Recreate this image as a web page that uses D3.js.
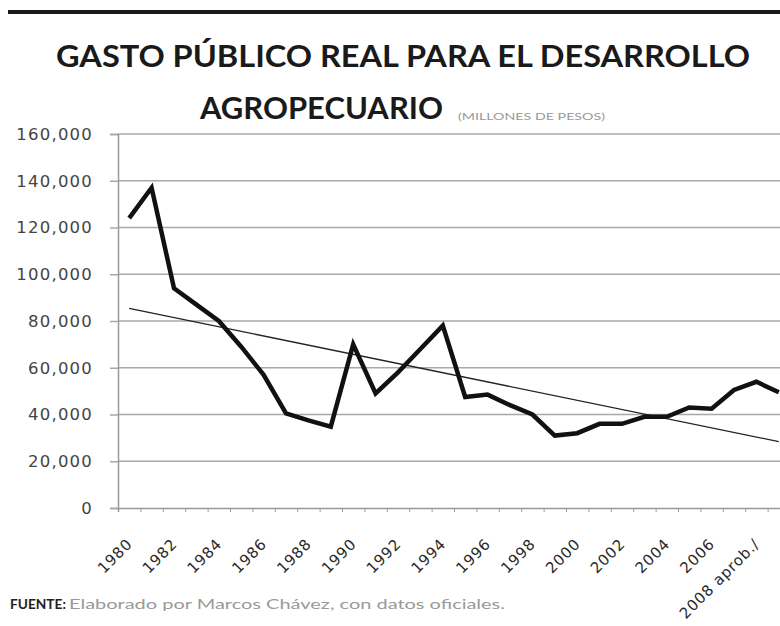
<!DOCTYPE html>
<html>
<head>
<meta charset="utf-8">
<script src="https://cdn.jsdelivr.net/npm/d3@7"></script>
<style>
  body { margin: 0; background: #fff; }
  svg { display: block; }
</style>
</head>
<body>
<script>
// Years shown on the chart (last one is cut off at the right edge)
var years = ['1980','1981','1982','1983','1984','1985','1986','1987','1988','1989',
             '1990','1991','1992','1993','1994','1995','1996','1997','1998','1999',
             '2000','2001','2002','2003','2004','2005','2006','2007','2008 aprob./','2009'];

// Gasto publico real, millones de pesos
var gasto = [124000, 137000, 94000, 87000, 80000, 69000, 57000, 40500, 37500, 34800,
             70000, 49000, 58000, 68000, 78000, 47500, 48500, 44000, 40000, 31000,
             32000, 36000, 36000, 39000, 39000, 43000, 42500, 50500, 54000, 49500];

// Linear trend line, value at first and last year
var trendYears = ['1980', '2009'];
var trendValues = [85400, 28400];

var yTicks = [0, 20000, 40000, 60000, 80000, 100000, 120000, 140000, 160000];

var width = 780, height = 626;
var plotLeft = 118, plotBottom = 508, plotTop = 134;
var step = 22.4;

var svg = d3.select(document.body).append('svg')
  .attr('width', width).attr('height', height);

svg.append('rect').attr('width', width).attr('height', height).attr('fill', '#fff');

// thick rule on top
svg.append('line')
  .attr('x1', 8).attr('x2', width).attr('y1', 12).attr('y2', 12)
  .attr('stroke', '#1a1a1a').attr('stroke-width', 4);

// Title (two lines)
svg.append('text')
  .attr('x', 56).attr('y', 67)
  .attr('textLength', 694).attr('lengthAdjust', 'spacingAndGlyphs')
  .style('font-family', 'Lato, sans-serif').style('font-weight', 'bold')
  .style('font-size', '31px').attr('fill', '#1a1a1a')
  .text('GASTO PÚBLICO REAL PARA EL DESARROLLO');

svg.append('text')
  .attr('x', 200).attr('y', 119)
  .attr('textLength', 243).attr('lengthAdjust', 'spacingAndGlyphs')
  .style('font-family', 'Lato, sans-serif').style('font-weight', 'bold')
  .style('font-size', '31px').attr('fill', '#1a1a1a')
  .text('AGROPECUARIO');

svg.append('text')
  .attr('x', 458).attr('y', 120)
  .attr('textLength', 147).attr('lengthAdjust', 'spacingAndGlyphs')
  .style('font-family', 'Lato, sans-serif')
  .style('font-size', '10px').attr('fill', '#999')
  .text('(MILLONES DE PESOS)');

// Scales: x by category index, band edges on integers
var x = d3.scaleLinear().domain([0, years.length]).range([plotLeft, plotLeft + years.length * step]);
var xc = function(yr) { return x(years.indexOf(yr) + 0.5); };
var y = d3.scaleLinear().domain([0, 160000]).range([plotBottom, plotTop]);

// gridlines
svg.append('g')
  .selectAll('line')
  .data(yTicks.filter(function(d) { return d > 0; }))
  .enter().append('line')
  .attr('x1', plotLeft).attr('x2', width)
  .attr('y1', function(d) { return y(d); })
  .attr('y2', function(d) { return y(d); })
  .attr('stroke', '#a8a8a8').attr('stroke-width', 1.5);

// y axis
var yAxis = svg.append('g')
  .attr('transform', 'translate(' + plotLeft + ',0)')
  .call(d3.axisLeft(y).tickValues(yTicks).tickSize(8).tickPadding(17)
        .tickFormat(d3.format(',')));
yAxis.select('.domain').attr('stroke', '#999').attr('stroke-width', 1.5);
yAxis.selectAll('.tick line').attr('stroke', '#a8a8a8').attr('stroke-width', 1.5);
yAxis.selectAll('.tick text')
  .style('font-family', '"DejaVu Sans", sans-serif').style('font-size', '16.5px')
  .style('letter-spacing', '1.2px').attr('fill', '#444');

// x axis: ticks at band edges, no labels
var xAxis = svg.append('g')
  .attr('transform', 'translate(0,' + plotBottom + ')')
  .call(d3.axisBottom(x).tickValues(d3.range(0, years.length + 1)).tickSize(4)
        .tickFormat(''));
xAxis.select('.domain').attr('stroke', '#999').attr('stroke-width', 1.5);
xAxis.selectAll('.tick line').attr('stroke', '#999').attr('stroke-width', 1);

// x labels every other year
svg.append('g')
  .selectAll('text')
  .data(years.filter(function(d, i) { return i % 2 === 0; }))
  .enter().append('text')
  .attr('transform', function(d) { return 'translate(' + (xc(d) + 4) + ',545) rotate(-45)'; })
  .attr('text-anchor', 'end')
  .style('font-family', '"DejaVu Sans", sans-serif').style('font-size', '15px')
  .style('letter-spacing', '0.8px').attr('fill', '#2a2a2a')
  .text(function(d) { return d; });

// trend line
svg.append('line')
  .attr('x1', xc(trendYears[0])).attr('y1', y(trendValues[0]))
  .attr('x2', xc(trendYears[1])).attr('y2', y(trendValues[1]))
  .attr('stroke', '#222').attr('stroke-width', 1.3);

// data line
var line = d3.line()
  .x(function(d, i) { return x(i + 0.5); })
  .y(function(d) { return y(d); });

svg.append('path')
  .datum(gasto)
  .attr('d', line)
  .attr('fill', 'none')
  .attr('stroke', '#111')
  .attr('stroke-width', 4.5)
  .attr('stroke-linejoin', 'miter');

// source
svg.append('text')
  .attr('x', 10).attr('y', 609)
  .attr('textLength', 56).attr('lengthAdjust', 'spacingAndGlyphs')
  .style('font-family', 'Lato, sans-serif').style('font-weight', 'bold')
  .style('font-size', '14px').attr('fill', '#222')
  .text('FUENTE:');

svg.append('text')
  .attr('x', 69).attr('y', 609)
  .attr('textLength', 436).attr('lengthAdjust', 'spacingAndGlyphs')
  .style('font-family', 'Lato, sans-serif')
  .style('font-size', '14px').attr('fill', '#999')
  .text('Elaborado por Marcos Chávez, con datos oficiales.');
</script>
</body>
</html>
